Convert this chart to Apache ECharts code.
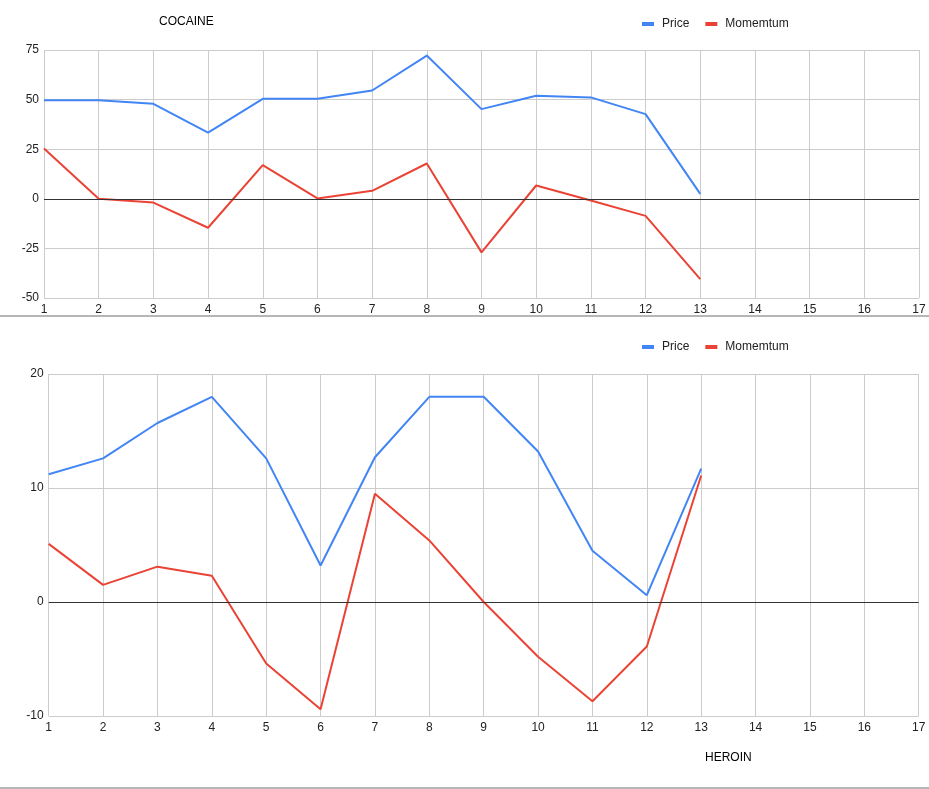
<!DOCTYPE html>
<html>
<head>
<meta charset="utf-8">
<script src="https://cdn.jsdelivr.net/npm/echarts@6/dist/echarts.min.js"></script>
<style>
html,body{margin:0;padding:0;background:#fff;}
#c{width:929px;height:789px;}
</style>
</head>
<body>
<div id="c"></div>
<script>
const categories = ['1','2','3','4','5','6','7','8','9','10','11','12','13','14','15','16','17'];
const cocainePrice = [49.7, 49.7, 47.9, 33.4, 50.4, 50.4, 54.6, 72.2, 45.2, 51.9, 51.1, 42.7, 2.5];
const cocaineMomentum = [25.4, 0, -1.9, -14.6, 17.0, 0.2, 4.0, 17.8, -27.0, 6.7, -0.9, -8.6, -40.5];
const heroinPrice = [11.2, 12.6, 15.7, 18.0, 12.6, 3.2, 12.7, 18.0, 18.0, 13.2, 4.5, 0.6, 11.7];
const heroinMomentum = [5.1, 1.5, 3.1, 2.3, -5.4, -9.4, 9.5, 5.4, 0.0, -4.8, -8.7, -3.9, 11.1];
const cocaineTicks = {min: -50, max: 75, interval: 25};
const heroinTicks = {min: -10, max: 20, interval: 10};

const FONT = '"Liberation Sans", Arial, sans-serif';
const BLUE = '#4285F4', RED = '#EA4335';
const chart = echarts.init(document.getElementById('c'), null, {renderer: 'canvas'});

function xAxis(gi) {
  return {
    type: 'category', gridIndex: gi, data: categories, boundaryGap: false,
    axisLine: {show: false}, axisTick: {show: false},
    axisLabel: {color: '#222', fontFamily: FONT, fontSize: 12, margin: 6, interval: 0},
    splitLine: {show: true, lineStyle: {color: '#cccccc', width: 1}}
  };
}
function yAxis(gi, t) {
  return {
    type: 'value', gridIndex: gi, min: t.min, max: t.max, interval: t.interval,
    axisLine: {show: false}, axisTick: {show: false},
    axisLabel: {color: '#222', fontFamily: FONT, fontSize: 12, margin: 5},
    splitLine: {show: true, lineStyle: {color: '#cccccc', width: 1}}
  };
}
function zeroLine() {
  return {silent: true, symbol: 'none', label: {show: false},
    lineStyle: {color: '#333', width: 1, type: 'solid'}, data: [{yAxis: 0}]};
}
function line(name, data, color, gi, withZero) {
  const s = {name, type: 'line', data, xAxisIndex: gi, yAxisIndex: gi,
    symbol: 'none', lineStyle: {color, width: 2}, itemStyle: {color}, animation: false};
  if (withZero) s.markLine = zeroLine();
  return s;
}
const legendBase = {
  data: ['Price', 'Momemtum'], icon: 'rect', itemWidth: 12, itemHeight: 4, itemGap: 16,
  textStyle: {color: '#222', fontFamily: FONT, fontSize: 12, padding: [0, 0, 0, 3]}
};

chart.setOption({
  animation: false,
  textStyle: {fontFamily: FONT},
  title: [
    {text: 'COCAINE', left: 154, top: 11, textStyle: {color: '#000', fontFamily: FONT, fontSize: 12, fontWeight: 'normal'}},
    {text: 'HEROIN', left: 700, top: 747, textStyle: {color: '#000', fontFamily: FONT, fontSize: 12, fontWeight: 'normal'}}
  ],
  legend: [
    Object.assign({left: 637, top: 13}, legendBase),
    Object.assign({left: 637, top: 336}, legendBase)
  ],
  grid: [
    {left: 44, right: 10, top: 50, height: 248},
    {left: 48.7, right: 10.3, top: 374, height: 342}
  ],
  xAxis: [xAxis(0), xAxis(1)],
  yAxis: [yAxis(0, cocaineTicks), yAxis(1, heroinTicks)],
  series: [
    line('Price', cocainePrice, BLUE, 0, false),
    line('Momemtum', cocaineMomentum, RED, 0, true),
    line('Price', heroinPrice, BLUE, 1, false),
    line('Momemtum', heroinMomentum, RED, 1, true)
  ],
  graphic: [
    {type: 'line', shape: {x1: 0, y1: 316, x2: 929, y2: 316}, style: {stroke: '#9e9e9e', lineWidth: 1.5}, silent: true},
    {type: 'line', shape: {x1: 0, y1: 788, x2: 929, y2: 788}, style: {stroke: '#9e9e9e', lineWidth: 1.5}, silent: true}
  ]
});
</script>
</body>
</html>
